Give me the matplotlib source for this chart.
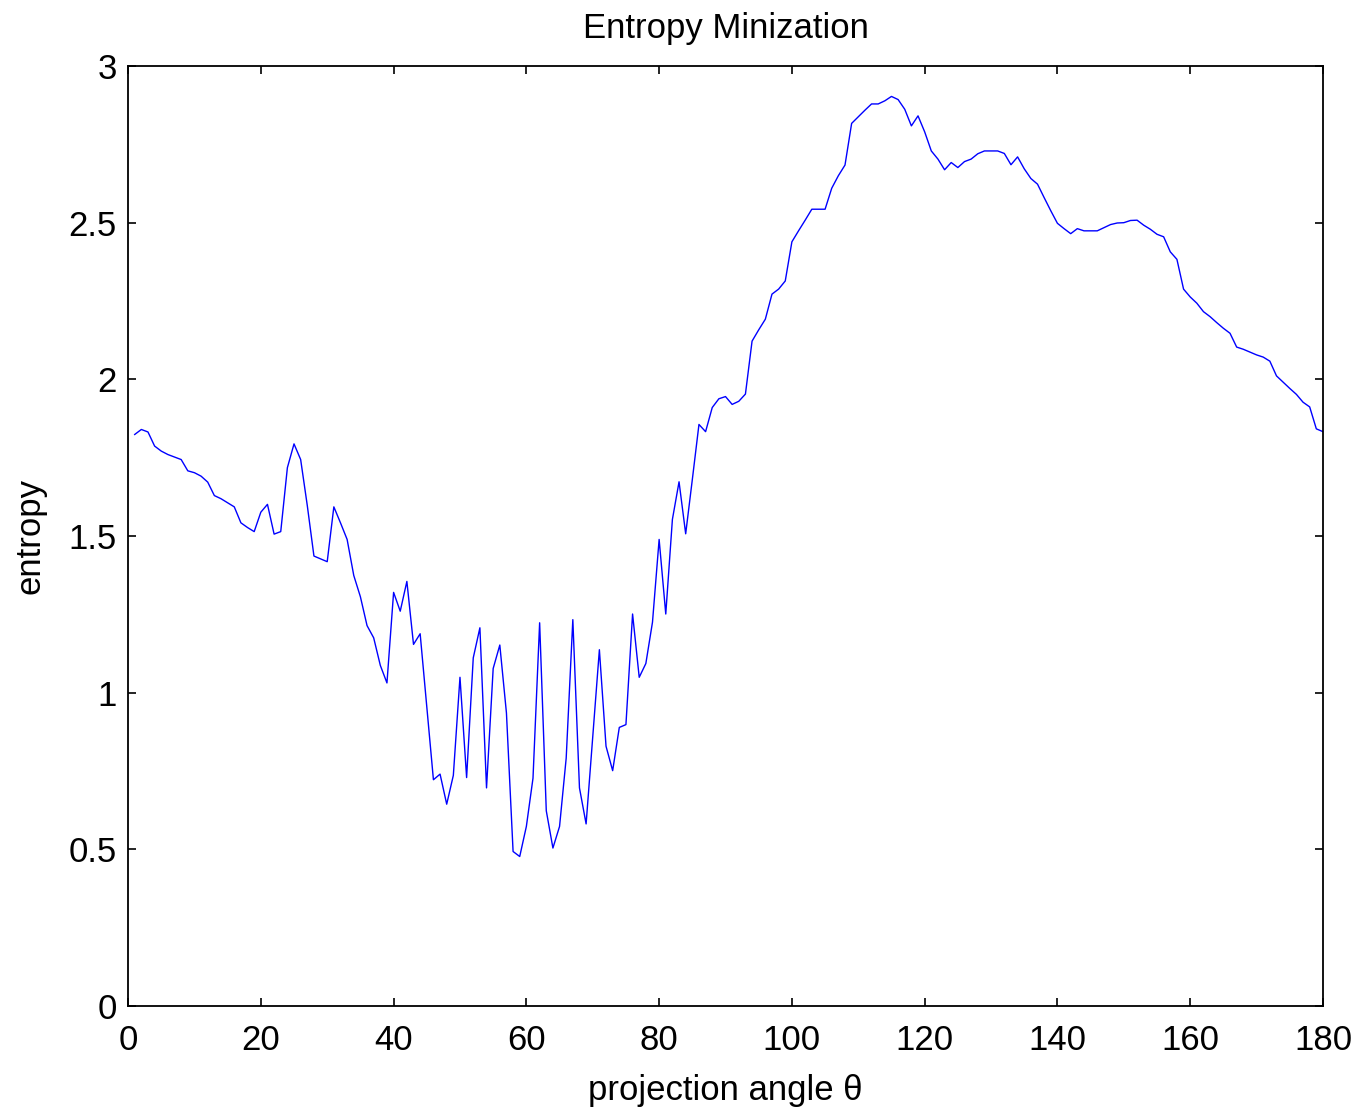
import matplotlib
matplotlib.use('Agg')
import matplotlib.pyplot as plt
import numpy as np

plt.rcParams['font.family'] = ['Liberation Sans', 'DejaVu Sans']

# projection angle in degrees (1..180)
angles = np.arange(1, 181)

# entropy per angle
entropy = [
    1.824, 1.840, 1.832, 1.787, 1.771, 1.760, 1.752, 1.744, 1.708, 1.702,
    1.691, 1.672, 1.629, 1.619, 1.606, 1.593, 1.542, 1.527, 1.514, 1.576,
    1.601, 1.506, 1.514, 1.718, 1.794, 1.744, 1.597, 1.436, 1.427, 1.418,
    1.593, 1.542, 1.489, 1.374, 1.306, 1.214, 1.175, 1.087, 1.031, 1.320,
    1.260, 1.355, 1.154, 1.188, 0.955, 0.722, 0.740, 0.644, 0.736, 1.049,
    0.729, 1.111, 1.207, 0.696, 1.077, 1.152, 0.935, 0.493, 0.477, 0.573,
    0.727, 1.223, 0.623, 0.504, 0.573, 0.791, 1.233, 0.696, 0.581, 0.860,
    1.137, 0.829, 0.751, 0.889, 0.898, 1.251, 1.049, 1.093, 1.225, 1.489,
    1.251, 1.553, 1.673, 1.507, 1.680, 1.856, 1.833, 1.910, 1.938, 1.945,
    1.920, 1.930, 1.953, 2.122, 2.158, 2.192, 2.272, 2.288, 2.314, 2.439,
    2.474, 2.508, 2.543, 2.543, 2.543, 2.610, 2.650, 2.684, 2.817, 2.838,
    2.859, 2.879, 2.879, 2.889, 2.903, 2.893, 2.862, 2.809, 2.841, 2.790,
    2.729, 2.703, 2.669, 2.692, 2.676, 2.695, 2.703, 2.720, 2.729, 2.729,
    2.729, 2.721, 2.685, 2.710, 2.672, 2.641, 2.623, 2.580, 2.538, 2.498,
    2.481, 2.465, 2.481, 2.474, 2.474, 2.474, 2.484, 2.494, 2.499, 2.500,
    2.507, 2.508, 2.492, 2.479, 2.463, 2.455, 2.407, 2.383, 2.288, 2.263,
    2.243, 2.216, 2.200, 2.181, 2.163, 2.147, 2.103, 2.096, 2.087, 2.078,
    2.071, 2.058, 2.011, 1.991, 1.971, 1.952, 1.927, 1.912, 1.842, 1.833,
]

xticks = [0, 20, 40, 60, 80, 100, 120, 140, 160, 180]
yticks = [0, 0.5, 1, 1.5, 2, 2.5, 3]

fig = plt.figure(figsize=(13.58, 11.08), dpi=100)
ax = fig.add_axes([0.0943, 0.0921, 0.8799, 0.8483])

ax.plot(angles, entropy, color='#0000ff', lw=1.0)

ax.set_xlim(0, 180)
ax.set_ylim(0, 3)
ax.set_xticks(xticks)
ax.set_yticks(yticks)
ax.set_yticklabels(['0', '0.5', '1', '1.5', '2', '2.5', '3'])
ax.tick_params(direction='in', length=6, width=1.2, labelsize=25,
               top=True, right=True)
ax.tick_params(axis='x', pad=13)
ax.tick_params(axis='y', pad=8)
for s in ax.spines.values():
    s.set_linewidth(1.3)

ax.set_title('Entropy Minization', fontsize=25, pad=20)
ax.set_xlabel('projection angle θ', fontsize=25, labelpad=12)
ax.set_ylabel('entropy', fontsize=25, labelpad=16)

fig.savefig('out.png', dpi=100)
